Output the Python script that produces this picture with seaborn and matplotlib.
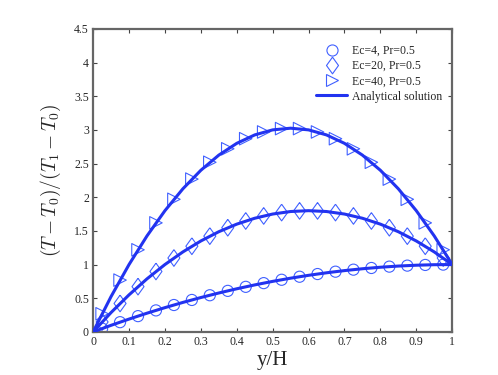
import matplotlib
matplotlib.use("Agg")
import matplotlib.pyplot as plt
from matplotlib.lines import Line2D
import seaborn as sns
import pandas as pd

# marker (numerical) data
x_pts = [0.025, 0.075, 0.125, 0.175, 0.225, 0.275, 0.325, 0.375, 0.425, 0.475,
         0.525, 0.575, 0.625, 0.675, 0.725, 0.775, 0.825, 0.875, 0.925, 0.975]
ec4_pts = [0.049, 0.144, 0.234, 0.319, 0.399, 0.474, 0.544, 0.609, 0.669, 0.724,
           0.774, 0.819, 0.859, 0.894, 0.924, 0.949, 0.969, 0.984, 0.994, 0.999]
ec20_pts = [0.147, 0.422, 0.672, 0.897, 1.097, 1.272, 1.422, 1.547, 1.647, 1.722,
            1.772, 1.797, 1.797, 1.772, 1.722, 1.647, 1.547, 1.422, 1.272, 1.097]
ec40_pts = [0.269, 0.769, 1.219, 1.619, 1.969, 2.269, 2.519, 2.719, 2.869, 2.969,
            3.019, 3.019, 2.969, 2.869, 2.719, 2.519, 2.269, 1.969, 1.619, 1.219]

# analytical curves
x_line = [0.0, 0.05, 0.1, 0.15, 0.2, 0.25, 0.3, 0.35, 0.4, 0.45, 0.5,
          0.55, 0.6, 0.65, 0.7, 0.75, 0.8, 0.85, 0.9, 0.95, 1.0]
ec4_line = [0, 0.0975, 0.19, 0.2775, 0.36, 0.4375, 0.51, 0.5775, 0.64, 0.6975, 0.75,
            0.7975, 0.84, 0.8775, 0.91, 0.9375, 0.96, 0.9775, 0.99, 0.9975, 1.0]
ec20_line = [0, 0.2875, 0.55, 0.7875, 1.0, 1.1875, 1.35, 1.4875, 1.6, 1.6875, 1.75,
             1.7875, 1.8, 1.7875, 1.75, 1.6875, 1.6, 1.4875, 1.35, 1.1875, 1.0]
ec40_line = [0, 0.525, 1.0, 1.425, 1.8, 2.125, 2.4, 2.625, 2.8, 2.925, 3.0,
             3.025, 3.0, 2.925, 2.8, 2.625, 2.4, 2.125, 1.8, 1.425, 1.0]

labels = ["Ec=4, Pr=0.5", "Ec=20, Pr=0.5", "Ec=40, Pr=0.5"]
diamond = [(0, 1), (0.72, 0), (0, -1), (-0.72, 0), (0, 1)]
markers = ["o", diamond, ">"]
xticks = [0, 0.1, 0.2, 0.3, 0.4, 0.5, 0.6, 0.7, 0.8, 0.9, 1]
xticklabels = ["0", "0.1", "0.2", "0.3", "0.4", "0.5", "0.6", "0.7", "0.8", "0.9", "1"]
yticks = [0, 0.5, 1, 1.5, 2, 2.5, 3, 3.5, 4, 4.5]
yticklabels = ["0", "0.5", "1", "1.5", "2", "2.5", "3", "3.5", "4", "4.5"]

sns.set_style("ticks")
plt.rcParams["font.family"] = ["Liberation Serif", "DejaVu Serif"]
plt.rcParams["mathtext.fontset"] = "cm"

LINE_C = "#2233f0"
MARK_C = "#4060ff"

fig = plt.figure(figsize=(4.98, 3.75), dpi=100)
ax = fig.add_axes([0.187, 0.115, 0.721, 0.808])

pts_sets = [ec4_pts, ec20_pts, ec40_pts]
line_sets = [ec4_line, ec20_line, ec40_line]
msizes = [8, 12, 9]
for ys, m, ms in zip(pts_sets, markers, msizes):
    df = pd.DataFrame({"x": x_pts, "y": ys})
    sns.scatterplot(data=df, x="x", y="y", marker=m, s=ms ** 2,
                    facecolors="none", edgecolor=MARK_C, linewidth=0.8,
                    ax=ax, zorder=2)
for ys in line_sets:
    df = pd.DataFrame({"x": x_line, "y": ys})
    sns.lineplot(data=df, x="x", y="y", color=LINE_C, linewidth=2.2,
                 estimator=None, sort=False, ax=ax, zorder=3)

ax.set_xlim(0, 1)
ax.set_ylim(0, 4.5)
ax.set_xticks(xticks)
ax.set_xticklabels(xticklabels)
ax.set_yticks(yticks)
ax.set_yticklabels(yticklabels)
ax.tick_params(direction="in", length=3, width=0.8, labelsize=8.5,
               top=True, right=True, color="#444444", pad=3)
for s in ax.spines.values():
    s.set_color("#666666")
    s.set_linewidth(1.6)

ax.set_xlabel("y/H", fontsize=15, labelpad=2)
ax.set_ylabel(r"$(T-T_0)/(T_1-T_0)$", fontsize=14, labelpad=8)

handles = [Line2D([], [], linestyle="none", marker=m, markersize=ms,
                  markerfacecolor="none", markeredgecolor=MARK_C,
                  markeredgewidth=0.8)
           for m, ms in zip(markers, msizes)]
handles.append(Line2D([], [], color=LINE_C, linewidth=2.2))
leg = ax.legend(handles, labels + ["Analytical solution"], loc="upper right",
                bbox_to_anchor=(0.995, 0.975), frameon=False, fontsize=8.5,
                handlelength=2.6, labelspacing=0.28, handletextpad=0.4,
                borderaxespad=0.3)

fig.savefig("out.png", dpi=100)
